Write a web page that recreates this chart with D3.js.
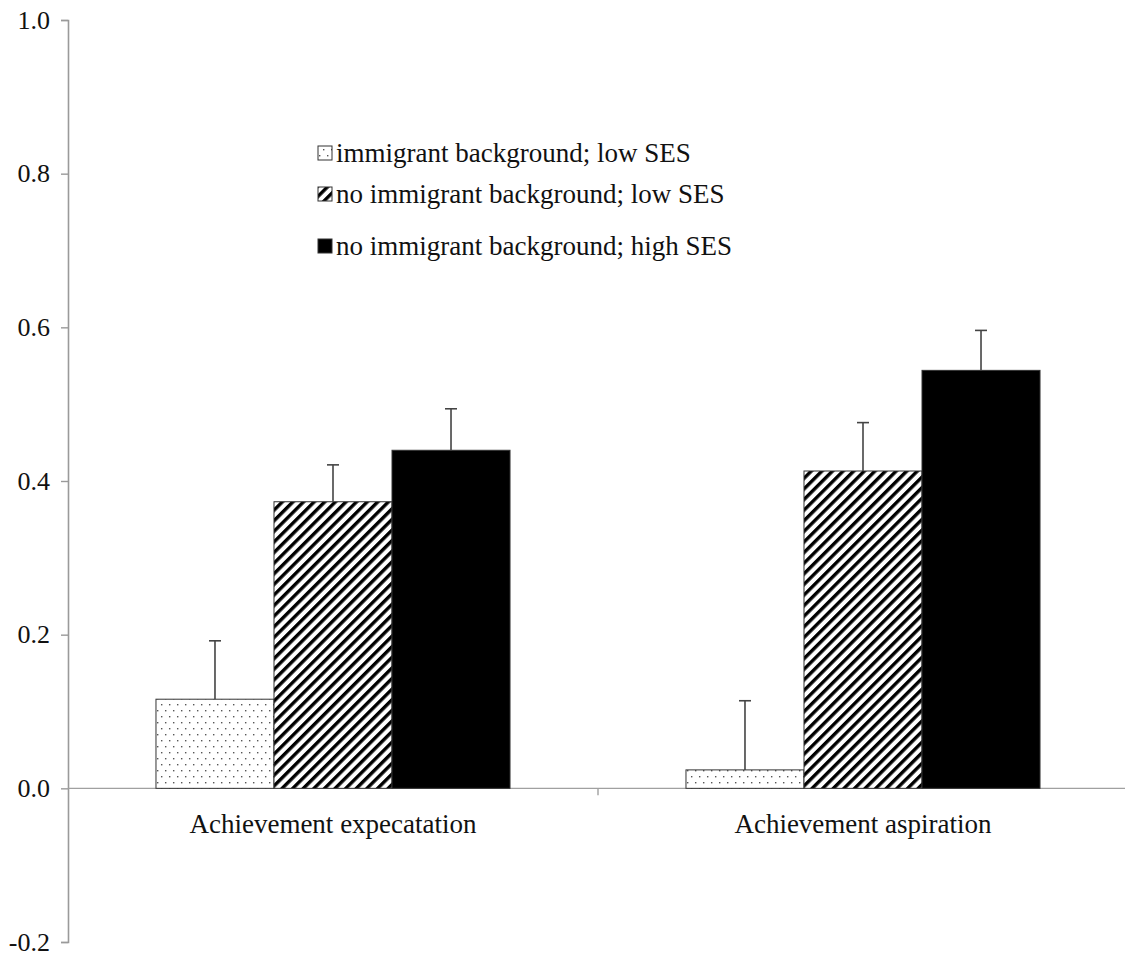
<!DOCTYPE html>
<html>
<head>
<meta charset="utf-8">
<script src="https://cdn.jsdelivr.net/npm/d3@7/dist/d3.min.js"></script>
<style>
  html, body { margin: 0; padding: 0; background: #fff; }
  svg { display: block; }
  text { font-family: "Liberation Serif", "Times New Roman", serif; fill: #111; }
</style>
</head>
<body>
<svg id="chart" width="1125" height="953"></svg>
<script>
// Outcome categories along the x axis
const categories = ["Achievement expecatation", "Achievement aspiration"];

// Student groups (one bar per group within each category)
const groups = [
  "immigrant background; low SES",
  "no immigrant background; low SES",
  "no immigrant background; high SES"
];

// Mean values per group, one entry per category
const immigrantLowSES = [0.116, 0.024];
const nativeLowSES    = [0.373, 0.413];
const nativeHighSES   = [0.440, 0.544];

// Upper error bar extents (added to the mean)
const immigrantLowSESErr = [0.076, 0.090];
const nativeLowSESErr    = [0.048, 0.063];
const nativeHighSESErr   = [0.054, 0.052];

// Y axis tick values
const yTicks = [-0.2, 0.0, 0.2, 0.4, 0.6, 0.8, 1.0];

const seriesValues = [immigrantLowSES, nativeLowSES, nativeHighSES];
const seriesErrors = [immigrantLowSESErr, nativeLowSESErr, nativeHighSESErr];
const fills = ["url(#dots)", "url(#hatch)", "#000"];

const svg = d3.select("#chart");

// Fill patterns
const defs = svg.append("defs");
const dots = defs.append("pattern")
  .attr("id", "dots").attr("patternUnits", "userSpaceOnUse")
  .attr("width", 8).attr("height", 12);
dots.append("rect").attr("width", 8).attr("height", 12).attr("fill", "#fff");
dots.append("rect").attr("x", 1).attr("y", 2).attr("width", 1.4).attr("height", 1.4).attr("fill", "#555");
dots.append("rect").attr("x", 5).attr("y", 8).attr("width", 1.4).attr("height", 1.4).attr("fill", "#555");

const hatch = defs.append("pattern")
  .attr("id", "hatch").attr("patternUnits", "userSpaceOnUse")
  .attr("width", 7.5).attr("height", 8)
  .attr("patternTransform", "rotate(45)");
hatch.append("rect").attr("width", 7.5).attr("height", 8).attr("fill", "#fff");
hatch.append("rect").attr("x", 0).attr("y", 0).attr("width", 3.4).attr("height", 8).attr("fill", "#000");

// Scales
const y = d3.scaleLinear().domain([-0.2, 1.0]).range([942, 20]);
const x = d3.scaleBand().domain(categories).range([68, 1128])
  .paddingInner(0.332).paddingOuter(0.166);
const xs = d3.scaleBand().domain(d3.range(groups.length)).range([0, x.bandwidth()]);

const fmt = d => d3.format(".1f")(d).replace("\u2212", "-");

// Y axis
const yAxis = svg.append("g").attr("transform", "translate(68,0)")
  .call(d3.axisLeft(y).tickValues(yTicks).tickFormat(fmt).tickSize(7).tickPadding(11));
yAxis.select(".domain").attr("stroke", "#9a9a9a").attr("stroke-width", 1.6);
yAxis.selectAll(".tick line").attr("stroke", "#9a9a9a").attr("stroke-width", 1.4);
yAxis.selectAll(".tick text")
  .style("font-family", "'Liberation Serif', serif")
  .style("font-size", "26px")
  .style("fill", "#111");

// X axis at zero, with a tick between the two categories
const gap = x.step() - x.bandwidth();
const xAxisG = svg.append("g").attr("transform", `translate(0,${y(0)})`);
xAxisG.append("line").attr("x1", 68).attr("x2", 1125)
  .attr("stroke", "#a0a0a0").attr("stroke-width", 1.4);
xAxisG.selectAll("line.tick").data(categories.slice(1)).enter().append("line")
  .attr("class", "tick")
  .attr("x1", d => x(d) - gap / 2)
  .attr("x2", d => x(d) - gap / 2)
  .attr("y1", 0).attr("y2", 7)
  .attr("stroke", "#a0a0a0").attr("stroke-width", 1.4);

// Category labels
svg.selectAll("text.cat").data(categories).enter().append("text")
  .attr("class", "cat")
  .attr("x", d => x(d) + x.bandwidth() / 2)
  .attr("y", 833)
  .attr("text-anchor", "middle")
  .style("font-size", "27px")
  .text(d => d);

// Bars
const groupG = svg.selectAll("g.cat").data(categories).enter().append("g")
  .attr("class", "cat")
  .attr("transform", d => `translate(${x(d)},0)`);

groups.forEach((g, gi) => {
  groupG.append("rect")
    .attr("x", xs(gi))
    .attr("width", xs.bandwidth())
    .attr("y", (d, ci) => y(seriesValues[gi][ci]))
    .attr("height", (d, ci) => y(0) - y(seriesValues[gi][ci]))
    .attr("fill", fills[gi])
    .attr("stroke", "#333")
    .attr("stroke-width", 1);
});

// Error bars
groups.forEach((g, gi) => {
  const cx = xs(gi) + xs.bandwidth() / 2;
  groupG.append("line")
    .attr("x1", cx).attr("x2", cx)
    .attr("y1", (d, ci) => y(seriesValues[gi][ci]))
    .attr("y2", (d, ci) => y(seriesValues[gi][ci] + seriesErrors[gi][ci]))
    .attr("stroke", "#444").attr("stroke-width", 1.6);
  groupG.append("line")
    .attr("x1", cx - 6).attr("x2", cx + 6)
    .attr("y1", (d, ci) => y(seriesValues[gi][ci] + seriesErrors[gi][ci]))
    .attr("y2", (d, ci) => y(seriesValues[gi][ci] + seriesErrors[gi][ci]))
    .attr("stroke", "#444").attr("stroke-width", 1.6);
});

// Legend
const legendRows = [153, 194, 246];
const legend = svg.append("g");
groups.forEach((g, gi) => {
  const row = legend.append("g").attr("transform", `translate(318,${legendRows[gi]})`);
  row.append("rect").attr("x", 0).attr("y", -7).attr("width", 14).attr("height", 14)
    .attr("fill", fills[gi]).attr("stroke", "#333").attr("stroke-width", 1);
  row.append("text").attr("x", 18).attr("y", 9).style("font-size", "27px").text(g);
});
</script>
</body>
</html>
